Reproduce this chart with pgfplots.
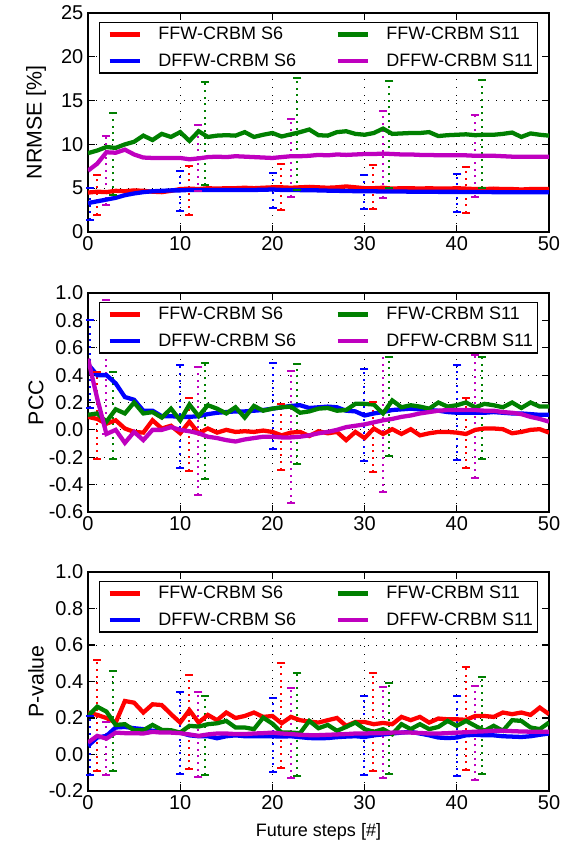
\documentclass[border=0pt]{standalone}
\usepackage{fontspec}
\setmainfont{Liberation Sans}
\usepackage{pgfplots}
\usepackage{pgfplotstable}
\pgfplotsset{compat=1.18}
\definecolor{mgreen}{rgb}{0,0.5,0}
\definecolor{mmag}{rgb}{0.75,0,0.75}

\pgfplotstableread{
x r b g m
0 4.5 3.3 9.0 7.0
1 4.6 3.5 9.3 7.8
2 4.55 3.7 9.7 9.1
3 4.7 3.9 9.6 9.05
4 4.65 4.2 10.0 9.4
5 4.75 4.4 10.3 8.85
6 4.7 4.55 11.0 8.5
7 4.6 4.65 10.5 8.45
8 4.55 4.7 11.2 8.45
9 4.7 4.75 10.85 8.45
10 4.9 4.75 11.4 8.45
11 4.95 4.8 10.4 8.3
12 4.9 4.8 11.5 8.4
13 5.0 4.8 10.85 8.55
14 4.95 4.8 11.0 8.6
15 5.0 4.8 11.05 8.55
16 5.0 4.8 11.0 8.65
17 5.05 4.8 11.4 8.6
18 5.0 4.8 10.85 8.55
19 5.05 4.82 11.1 8.5
20 5.1 4.85 11.3 8.45
21 5.1 4.8 10.9 8.55
22 5.05 4.8 11.15 8.65
23 5.1 4.78 11.4 8.65
24 5.15 4.76 11.7 8.7
25 5.1 4.75 11.05 8.8
26 5.05 4.72 11.0 8.75
27 5.1 4.7 11.4 8.85
28 5.2 4.68 11.5 8.8
29 5.1 4.66 11.2 8.85
30 5.0 4.65 11.1 8.9
31 5.0 4.64 11.3 8.9
32 5.05 4.63 11.8 8.95
33 4.95 4.62 11.2 8.9
34 5.0 4.62 11.25 8.85
35 5.0 4.6 11.3 8.85
36 4.95 4.6 11.3 8.8
37 5.0 4.6 11.4 8.8
38 4.95 4.58 10.95 8.75
39 4.95 4.58 11.05 8.75
40 5.0 4.58 11.1 8.75
41 4.95 4.57 11.15 8.75
42 4.9 4.56 11.05 8.7
43 4.9 4.56 11.1 8.7
44 4.95 4.55 11.1 8.7
45 4.9 4.55 11.2 8.65
46 4.9 4.55 11.35 8.6
47 4.85 4.55 10.85 8.6
48 4.9 4.55 11.25 8.6
49 4.9 4.55 11.1 8.6
50 4.9 4.55 11.0 8.6
}\nrmse

\pgfplotstableread{
x r b g m
0 0.095 0.48 0.11 0.52
1 0.08 0.40 0.12 0.23
2 0.045 0.40 0.06 -0.03
3 0.07 0.34 0.15 0.0
4 0.01 0.24 0.12 -0.095
5 -0.015 0.22 0.20 -0.015
6 -0.02 0.14 0.12 -0.075
7 0.07 0.14 0.13 0.0
8 0.01 0.10 0.09 0.0
9 0.03 0.10 0.155 0.02
10 -0.025 0.095 0.07 0.0
11 0.06 0.095 0.185 -0.01
12 -0.025 0.10 0.10 -0.025
13 0.01 0.115 0.18 -0.05
14 -0.02 0.125 0.155 -0.06
15 0.0 0.13 0.12 -0.075
16 -0.015 0.135 0.165 -0.085
17 -0.01 0.135 0.09 -0.07
18 -0.015 0.14 0.175 -0.06
19 -0.005 0.145 0.14 -0.05
20 -0.015 0.155 0.155 -0.05
21 -0.04 0.165 0.165 -0.055
22 -0.02 0.175 0.17 -0.055
23 -0.015 0.18 0.125 -0.05
24 -0.045 0.16 0.135 -0.04
25 -0.01 0.165 0.155 -0.025
26 -0.025 0.17 0.16 -0.015
27 -0.015 0.165 0.14 0.0
28 -0.075 0.14 0.145 0.02
29 -0.015 0.135 0.19 0.03
30 -0.06 0.105 0.19 0.04
31 0.01 0.12 0.185 0.055
32 -0.03 0.13 0.12 0.07
33 0.005 0.145 0.215 0.08
34 -0.03 0.15 0.165 0.095
35 0.005 0.155 0.18 0.105
36 -0.04 0.15 0.17 0.12
37 -0.025 0.145 0.155 0.13
38 -0.015 0.14 0.20 0.14
39 -0.015 0.13 0.17 0.145
40 -0.02 0.125 0.18 0.145
41 -0.03 0.125 0.20 0.145
42 0.0 0.125 0.165 0.145
43 0.01 0.125 0.19 0.14
44 0.01 0.13 0.18 0.14
45 0.005 0.125 0.165 0.13
46 -0.025 0.12 0.20 0.125
47 -0.015 0.12 0.16 0.115
48 0.0 0.115 0.20 0.095
49 0.005 0.11 0.17 0.08
50 -0.02 0.11 0.17 0.06
}\pcc

\pgfplotstableread{
x r b g m
0 0.23 0.047 0.211 0.066
1 0.217 0.093 0.262 0.102
2 0.20 0.102 0.235 0.087
3 0.175 0.148 0.162 0.12
4 0.293 0.151 0.166 0.117
5 0.284 0.144 0.133 0.117
6 0.23 0.139 0.133 0.115
7 0.275 0.13 0.162 0.124
8 0.271 0.126 0.135 0.12
9 0.221 0.126 0.133 0.12
10 0.175 0.12 0.12 0.117
11 0.243 0.105 0.157 0.11
12 0.175 0.10 0.153 0.102
13 0.217 0.10 0.166 0.11
14 0.188 0.089 0.171 0.115
15 0.23 0.10 0.184 0.115
16 0.20 0.105 0.148 0.112
17 0.211 0.10 0.148 0.112
18 0.23 0.10 0.139 0.115
19 0.206 0.10 0.202 0.117
20 0.211 0.10 0.169 0.12
21 0.171 0.098 0.12 0.115
22 0.206 0.10 0.12 0.112
23 0.188 0.095 0.117 0.108
24 0.18 0.09 0.184 0.106
25 0.175 0.089 0.144 0.106
26 0.188 0.09 0.162 0.108
27 0.20 0.095 0.13 0.11
28 0.157 0.098 0.151 0.112
29 0.178 0.10 0.175 0.115
30 0.178 0.096 0.139 0.115
31 0.166 0.105 0.124 0.117
32 0.173 0.11 0.139 0.117
33 0.166 0.115 0.111 0.12
34 0.206 0.12 0.166 0.12
35 0.188 0.124 0.139 0.12
36 0.206 0.115 0.166 0.118
37 0.175 0.105 0.139 0.115
38 0.197 0.093 0.151 0.115
39 0.193 0.09 0.184 0.117
40 0.193 0.093 0.157 0.12
41 0.19 0.105 0.184 0.122
42 0.211 0.108 0.157 0.125
43 0.211 0.105 0.13 0.127
44 0.206 0.105 0.157 0.13
45 0.23 0.10 0.13 0.13
46 0.221 0.098 0.188 0.128
47 0.23 0.096 0.184 0.126
48 0.217 0.10 0.148 0.125
49 0.257 0.108 0.139 0.125
50 0.221 0.115 0.175 0.125
}\pval

\pgfplotsset{
  panel/.style={
    scale only axis, width=345.75pt, height=164.25pt,
    xmin=0, xmax=50, xtick={0,10,...,50},
    font=\fontsize{13.5}{16}\selectfont,
    tick label style={font=\fontsize{15}{18}\selectfont},
    /pgf/number format/assume math mode=true,
    grid=major,
    major grid style={black, line width=0.6pt, dash pattern=on 1pt off 5pt},
    axis line style={line width=1.6pt},
    tick style={black, line width=0.9pt},
    major tick length=5pt, tick align=inside,
    unbounded coords=jump,
    every axis y label/.style={at={(axis description cs:-0.1128,0.5)}, rotate=90, anchor=center, font=\fontsize{16}{19}\selectfont},
    every axis x label/.style={at={(axis description cs:0.5,-0.187)}, anchor=center},
    legend columns=2, transpose legend,
    legend cell align=left,
    legend image code/.code={\path (0cm,0cm); \draw[##1] (0.16cm,0cm) -- (0.96cm,0cm);},
    legend style={at={(0.5,0.959)}, anchor=north, draw=black, line width=1pt, fill=white,
      font=\fontsize{13.5}{16}\selectfont,
      nodes={inner sep=2pt},
      inner xsep=1.7pt, inner ysep=1.5pt, row sep=5pt,
      /tikz/every odd column/.append style={column sep=10.2pt},
      /tikz/every even column/.append style={column sep=23pt}},
  },
  ln/.style={line width=3.2pt},
  eb/.style={line width=1.5pt, dash pattern=on 1.5pt off 3.5pt, mark=-, mark size=3pt, mark options={solid, line width=1.5pt}, forget plot},
}

\begin{document}
\begin{tikzpicture}
\useasboundingbox (-66pt,-46.5pt) rectangle (354.75pt,593.25pt);

% ---------- NRMSE ----------
\begin{axis}[panel, at={(0pt,419.25pt)}, ymin=0, ymax=25, ytick={0,5,...,25}, ylabel={NRMSE [\%]}]
\addplot[eb, blue] table {
x y
0.2 1.36
0.2 5.05
nan nan
10 2.39
10 6.98
nan nan
20.03 2.77
20.03 6.75
nan nan
29.97 2.58
29.97 6.48
nan nan
40.05 2.27
40.05 6.6
};
\addplot[eb, red] table {
x y
0.95 1.97
0.95 6.55
nan nan
10.95 1.98
10.95 7.55
nan nan
20.97 2.47
20.97 7.73
nan nan
30.95 2.58
30.95 7.6
nan nan
40.96 2.16
40.96 7.43
};
\addplot[eb, mmag] table {
x y
1.96 3.03
1.96 11.0
nan nan
11.97 4.66
11.97 12.27
nan nan
21.98 3.94
21.98 12.95
nan nan
31.96 3.83
31.96 13.8
nan nan
41.97 3.94
41.97 13.4
};
\addplot[eb, mgreen] table {
x y
2.73 4.28
2.73 13.6
nan nan
12.7 5.34
12.7 17.16
nan nan
22.7 4.85
22.7 17.6
nan nan
32.68 4.97
32.68 17.2
nan nan
42.7 5.05
42.7 17.35
};
\addplot[ln, red] table[x=x, y=r] {\nrmse};
\addplot[ln, blue] table[x=x, y=b] {\nrmse};
\addplot[ln, mgreen] table[x=x, y=g] {\nrmse};
\addplot[ln, mmag] table[x=x, y=m] {\nrmse};
\legend{FFW-CRBM S6, DFFW-CRBM S6, FFW-CRBM S11, DFFW-CRBM S11}
\end{axis}

% ---------- PCC ----------
\begin{axis}[panel, at={(0pt,209.25pt)}, ymin=-0.6, ymax=1.0, ytick={-0.6,-0.4,...,1.01}, ylabel={PCC},
  yticklabel style={/pgf/number format/.cd, fixed, fixed zerofill, precision=1}]
\addplot[eb, blue] table {
x y
0.2 0.16
0.2 0.80
nan nan
10 -0.28
10 0.477
nan nan
20.03 -0.14
20.03 0.49
nan nan
29.97 -0.228
29.97 0.446
nan nan
40.05 -0.22
40.05 0.477
};
\addplot[eb, red] table {
x y
0.95 -0.21
0.95 0.42
nan nan
10.95 -0.30
10.95 0.235
nan nan
20.97 -0.29
20.97 0.186
nan nan
30.95 -0.31
30.95 0.20
nan nan
40.96 -0.277
40.96 0.235
};
\addplot[eb, mmag] table {
x y
1.96 -0.03
1.96 0.95
nan nan
11.97 -0.476
11.97 0.46
nan nan
21.98 -0.536
21.98 0.433
nan nan
31.96 -0.456
31.96 0.6
nan nan
41.97 -0.35
41.97 0.55
};
\addplot[eb, mgreen] table {
x y
2.73 -0.21
2.73 0.42
nan nan
12.7 -0.36
12.7 0.49
nan nan
22.7 -0.25
22.7 0.48
nan nan
32.68 -0.19
32.68 0.53
nan nan
42.7 -0.214
42.7 0.53
};
\addplot[ln, red] table[x=x, y=r] {\pcc};
\addplot[ln, blue] table[x=x, y=b] {\pcc};
\addplot[ln, mgreen] table[x=x, y=g] {\pcc};
\addplot[ln, mmag] table[x=x, y=m] {\pcc};
\legend{FFW-CRBM S6, DFFW-CRBM S6, FFW-CRBM S11, DFFW-CRBM S11}
\end{axis}

% ---------- P-value ----------
\begin{axis}[panel, at={(0pt,0pt)}, ymin=-0.2, ymax=1.0, ytick={-0.2,0,...,1.01}, ylabel={P-value},
  xlabel={Future steps [\#]},
  yticklabel style={/pgf/number format/.cd, fixed, fixed zerofill, precision=1}]
\addplot[eb, blue] table {
x y
0.2 -0.11
0.2 0.21
nan nan
10 -0.107
10 0.344
nan nan
20.03 -0.096
20.03 0.31
nan nan
29.97 -0.113
29.97 0.32
nan nan
40.05 -0.12
40.05 0.32
};
\addplot[eb, red] table {
x y
0.95 -0.09
0.95 0.52
nan nan
10.95 -0.08
10.95 0.436
nan nan
20.97 -0.075
20.97 0.50
nan nan
30.95 -0.09
30.95 0.448
nan nan
40.96 -0.085
40.96 0.48
};
\addplot[eb, mmag] table {
x y
1.96 -0.11
1.96 0.18
nan nan
11.97 -0.125
11.97 0.343
nan nan
21.98 -0.13
21.98 0.366
nan nan
31.96 -0.13
31.96 0.37
nan nan
41.97 -0.138
41.97 0.374
};
\addplot[eb, mgreen] table {
x y
2.73 -0.09
2.73 0.457
nan nan
12.7 -0.11
12.7 0.32
nan nan
22.7 -0.116
22.7 0.448
nan nan
32.68 -0.107
32.68 0.39
nan nan
42.7 -0.107
42.7 0.425
};
\addplot[ln, red] table[x=x, y=r] {\pval};
\addplot[ln, blue] table[x=x, y=b] {\pval};
\addplot[ln, mgreen] table[x=x, y=g] {\pval};
\addplot[ln, mmag] table[x=x, y=m] {\pval};
\legend{FFW-CRBM S6, DFFW-CRBM S6, FFW-CRBM S11, DFFW-CRBM S11}
\end{axis}
\end{tikzpicture}
\end{document}
